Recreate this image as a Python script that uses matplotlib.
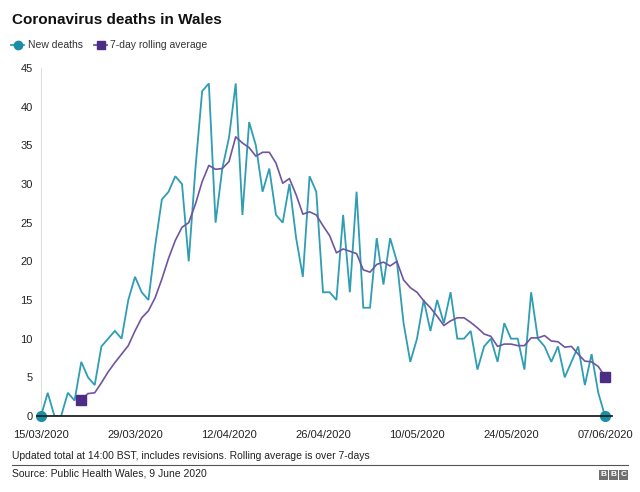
import matplotlib
matplotlib.use("Agg")
import matplotlib.pyplot as plt
import pandas as pd
from matplotlib.patches import Rectangle
from matplotlib.lines import Line2D

plt.rcParams['font.family'] = ['Liberation Sans', 'DejaVu Sans']

# daily new deaths, 15/03/2020 .. 07/06/2020
new_deaths = [0, 3, 0, 0, 3, 2, 7, 5, 4, 9,
              10, 11, 10, 15, 18, 16, 15, 22, 28, 29,
              31, 30, 20, 32, 42, 43, 25, 32, 36, 43,
              26, 38, 35, 29, 32, 26, 25, 30, 23, 18,
              31, 29, 16, 16, 15, 26, 16, 29, 14, 14,
              23, 17, 23, 20, 12, 7, 10, 15, 11, 15,
              12, 16, 10, 10, 11, 6, 9, 10, 7, 12,
              10, 10, 6, 16, 10, 9, 7, 9, 5, 7,
              9, 4, 8, 3, 0]
# 7-day rolling average, from 21/03/2020
rolling_avg = [2.1, 2.9, 3.0, 4.3, 5.7, 6.9, 8.0, 9.1, 11.0, 12.7,
               13.6, 15.3, 17.7, 20.4, 22.7, 24.4, 25.0, 27.4, 30.3, 32.4,
               31.9, 32.0, 32.9, 36.1, 35.3, 34.7, 33.6, 34.1, 34.1, 32.7,
               30.1, 30.7, 28.6, 26.1, 26.4, 26.0, 24.6, 23.3, 21.1, 21.6,
               21.3, 21.0, 18.9, 18.6, 19.6, 19.9, 19.4, 20.0, 17.6, 16.6,
               16.0, 14.9, 14.0, 12.9, 11.7, 12.3, 12.7, 12.7, 12.1, 11.4,
               10.6, 10.3, 9.0, 9.3, 9.3, 9.1, 9.1, 10.1, 10.1, 10.4,
               9.7, 9.6, 8.9, 9.0, 8.0, 7.1, 7.0, 6.4, 5.1]
tick_labels = ["15/03/2020", "29/03/2020", "12/04/2020", "26/04/2020",
               "10/05/2020", "24/05/2020", "07/06/2020"]
y_ticks = [0, 5, 10, 15, 20, 25, 30, 35, 40, 45]

dates = pd.date_range("2020-03-15", periods=len(new_deaths))
avg_dates = dates[len(dates) - len(rolling_avg):]

CYAN = "#2f9db2"
PURPLE = "#6f55a0"
PURPLE_DARK = "#4d2c86"
W, H = 640, 492

fig = plt.figure(figsize=(W / 100, H / 100), dpi=100)
ax = fig.add_axes([41 / W, (H - 416) / H, 564 / W, 348 / H])

ax.plot(dates, new_deaths, color=CYAN, lw=1.3, zorder=3, solid_joinstyle='miter')
ax.plot(avg_dates, rolling_avg, color=PURPLE, lw=1.2, zorder=4)
ax.plot([dates[0], dates[-1]], [new_deaths[0], new_deaths[-1]], ls='', marker='o',
        ms=7, color="#1a8ea6", clip_on=False, zorder=6)
ax.plot([avg_dates[0], avg_dates[-1]], [rolling_avg[0], rolling_avg[-1]], ls='', marker='s',
        ms=7, color=PURPLE_DARK, clip_on=False, zorder=6)

ax.set_xlim(dates[0], dates[-1])
ax.set_ylim(0, 45)
ax.set_xticks(dates[::14])
ax.set_xticklabels(tick_labels)
ax.set_yticks(y_ticks)
ax.tick_params(axis='both', length=0, labelsize=8, colors="#222222")
ax.tick_params(axis='x', pad=10)
ax.tick_params(axis='y', pad=6)
for s in ["top", "right", "bottom"]:
    ax.spines[s].set_visible(False)
ax.spines["left"].set_color("#dddddd")
ax.spines["left"].set_linewidth(0.8)
ax.patch.set_alpha(0)

# baseline running a little past the plot area
fig.add_artist(Line2D([37 / W, 612 / W], [(H - 416) / H] * 2, color="#222222", lw=1.3, zorder=1))

fig.text(12 / W, 1 - 20 / H, "Coronavirus deaths in Wales", fontsize=11,
         fontweight='bold', va='center', ha='left', color="#111111")

# legend
ly = 1 - 45 / H
fig.add_artist(Line2D([11 / W, 24 / W], [ly, ly], color=CYAN, lw=1.3))
fig.add_artist(Line2D([17.5 / W], [ly], marker='o', ms=6, color="#1a8ea6"))
fig.text(28 / W, ly, "New deaths", fontsize=7.5, va='center', color="#333333")
fig.add_artist(Line2D([94 / W, 107 / W], [ly, ly], color=PURPLE, lw=1.3))
fig.add_artist(Line2D([100.5 / W], [ly], marker='s', ms=5.5, color=PURPLE_DARK))
fig.text(110 / W, ly, "7-day rolling average", fontsize=7.5, va='center', color="#333333")

# footer
fig.text(12 / W, 1 - 456 / H, "Updated total at 14:00 BST, includes revisions. Rolling average is over 7-days",
         fontsize=7.5, va='center', color="#222222")
fig.add_artist(Line2D([12 / W, 628 / W], [1 - 465 / H] * 2, color="#555555", lw=0.8))
fig.text(12 / W, 1 - 474 / H, "Source: Public Health Wales, 9 June 2020",
         fontsize=7.5, va='center', color="#222222")
for i, ch in enumerate("BBC"):
    x0 = 599 + i * 10
    fig.add_artist(Rectangle((x0 / W, 1 - 479.5 / H), 9 / W, 10 / H, color="#707070", lw=0))
    fig.text((x0 + 4.5) / W, 1 - 474.5 / H, ch, fontsize=6, fontweight='bold',
             color="white", ha='center', va='center')

fig.savefig("out.png", dpi=100)
